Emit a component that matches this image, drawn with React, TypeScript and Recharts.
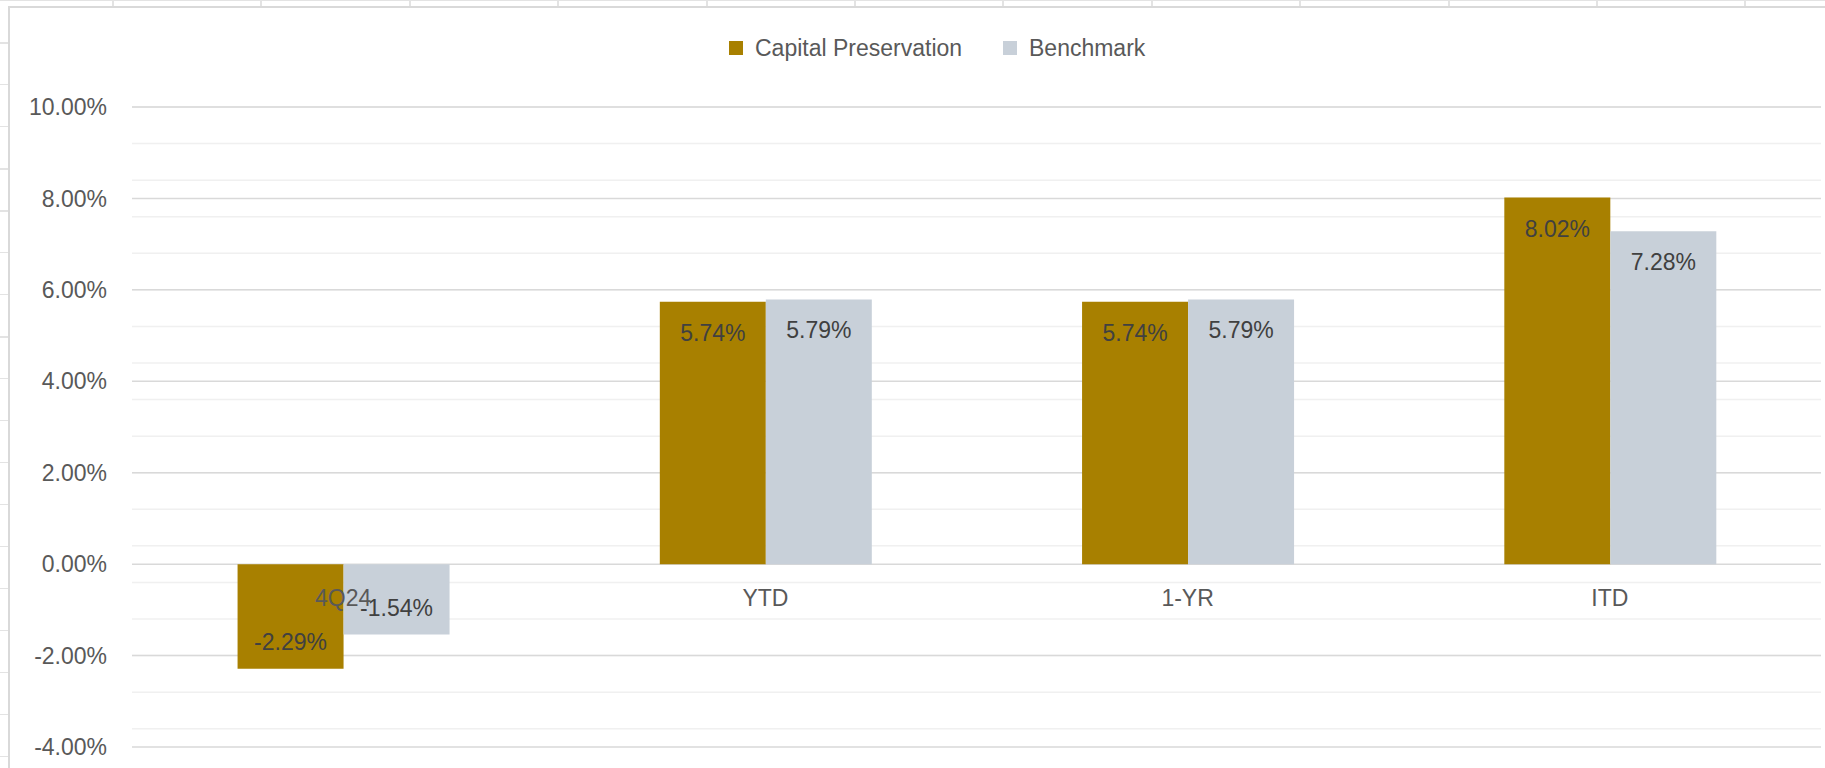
import React from 'react';
import { BarChart, Bar, XAxis, YAxis, CartesianGrid, LabelList } from 'recharts';

const periods = ['4Q24', 'YTD', '1-YR', 'ITD'];
const capitalPreservation = [-2.29, 5.74, 5.74, 8.02];
const benchmark = [-1.54, 5.79, 5.79, 7.28];
const yTicks = [-4, -2, 0, 2, 4, 6, 8, 10];
// light minor gridlines every 0.4%
const minorTicks = Array.from({ length: 36 }, (_, i) => Math.round((-4 + i * 0.4) * 10) / 10);

const FONT = '"Liberation Sans", Arial, sans-serif';
const W = 1825;
const H = 768;
const PLOT_TOP = 107;
const PLOT_BOTTOM = 747;
const PLOT_RIGHT = 1821;
const X_AXIS_H = 20;
const Y_MIN = -4;
const Y_MAX = 10;
const zeroY = PLOT_TOP + ((PLOT_BOTTOM - PLOT_TOP) * (Y_MAX - 0)) / (Y_MAX - Y_MIN);

const data = periods.map((p, i) => ({
  period: p,
  cp: capitalPreservation[i],
  bm: benchmark[i],
}));

const BarLabel = (props: any) => {
  const vb = props.viewBox || props;
  const { x, y, width, height } = vb;
  const value = Number(props.value);
  const top = Math.min(y, y + height);
  const bottom = Math.max(y, y + height);
  const cy = value >= 0 ? top + 31 : bottom - 27;
  return (
    <text x={x + width / 2} y={cy} textAnchor="middle" dominantBaseline="central"
      fill="#404040" fontSize={23} fontFamily={FONT}>
      {value.toFixed(2)}%
    </text>
  );
};

// category names sit just under the zero line, like Excel does
const CategoryTick = (props: any) => (
  <g>
    <text x={props.x} y={zeroY + 34} textAnchor="middle" dominantBaseline="central"
      fill="#595959" fontSize={23} fontFamily={FONT}>
      {props.payload.value}
    </text>
  </g>
);

const LegendItem = ({ left, color, label }: { left: number; color: string; label: string }) => (
  <div style={{ position: 'absolute', left, top: 36, height: 24, display: 'flex', alignItems: 'center' }}>
    <div style={{ width: 14, height: 14, background: color, marginRight: 12 }} />
    <span style={{ fontFamily: FONT, fontSize: 23, color: '#595959', lineHeight: '24px', whiteSpace: 'nowrap' }}>
      {label}
    </span>
  </div>
);

export default function App() {
  return (
    <div style={{ position: 'absolute', left: 0, top: 0, width: W, height: H, overflow: 'hidden', background: '#fff' }}>
      {/* spreadsheet cells behind the chart object */}
      <div style={{
        position: 'absolute', left: 0, top: 0, width: W, height: H,
        backgroundImage:
          'repeating-linear-gradient(to right, transparent 0 112px, #e3e3e3 112px 114px, transparent 114px 148.4px),' +
          'repeating-linear-gradient(to bottom, #e3e3e3 0 1.5px, transparent 1.5px 42px)',
      }} />
      <div style={{
        position: 'absolute', left: 8, top: 6, width: W, height: H,
        background: '#fff', borderLeft: '2px solid #d9d9d9', borderTop: '2px solid #d9d9d9',
      }} />
      <div style={{ position: 'absolute', left: 0, top: 0 }}>
        <BarChart width={W} height={H} data={data}
          margin={{ top: PLOT_TOP, right: W - PLOT_RIGHT, bottom: H - PLOT_BOTTOM - X_AXIS_H, left: 0 }}
          barCategoryGap="25%" barGap={0}>
          <CartesianGrid vertical={false} horizontalValues={minorTicks} stroke="#f0f0f0" strokeWidth={1.5} />
          <CartesianGrid vertical={false} horizontalValues={yTicks} stroke="#d9d9d9" strokeWidth={1.5} />
          <YAxis width={132} domain={[Y_MIN, Y_MAX]} ticks={yTicks} allowDataOverflow
            axisLine={false} tickLine={false} tickSize={0} tickMargin={25}
            tickFormatter={(v: number) => `${v.toFixed(2)}%`}
            tick={{ fill: '#595959', fontSize: 23, fontFamily: FONT }} />
          <Bar dataKey="cp" name="Capital Preservation" fill="#A88000" isAnimationActive={false}>
            <LabelList dataKey="cp" content={BarLabel} />
          </Bar>
          <Bar dataKey="bm" name="Benchmark" fill="#C8D0D9" isAnimationActive={false}>
            <LabelList dataKey="bm" content={BarLabel} />
          </Bar>
          <XAxis dataKey="period" height={X_AXIS_H} axisLine={false} tickLine={false} interval={0}
            tick={(p: any) => <CategoryTick {...p} />} />
        </BarChart>
      </div>
      <LegendItem left={729} color="#A88000" label="Capital Preservation" />
      <LegendItem left={1003} color="#C8D0D9" label="Benchmark" />
    </div>
  );
}
